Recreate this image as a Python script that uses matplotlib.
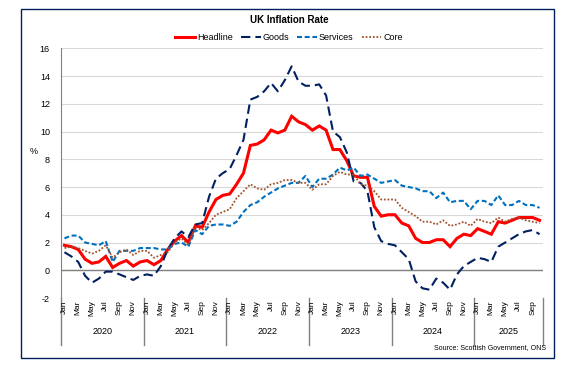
import numpy as np
import matplotlib.pyplot as plt
from matplotlib.patches import Rectangle
from matplotlib.transforms import blended_transform_factory

plt.rcParams['font.family'] = ['Liberation Sans', 'DejaVu Sans']
plt.rcParams['axes.unicode_minus'] = False

# monthly rates, Jan 2020 - Oct 2025
years = ['2020', '2021', '2022', '2023', '2024', '2025']
month_names = ['Jan', 'Feb', 'Mar', 'Apr', 'May', 'Jun',
               'Jul', 'Aug', 'Sep', 'Oct', 'Nov', 'Dec']

headline = [1.8, 1.7, 1.5, 0.8, 0.5, 0.6, 1.0, 0.2, 0.5, 0.7, 0.3, 0.6,
            0.7, 0.4, 0.7, 1.5, 2.1, 2.5, 2.0, 3.2, 3.1, 4.2, 5.1, 5.4,
            5.5, 6.2, 7.0, 9.0, 9.1, 9.4, 10.1, 9.9, 10.1, 11.1, 10.7, 10.5,
            10.1, 10.4, 10.1, 8.7, 8.7, 7.9, 6.8, 6.7, 6.7, 4.6, 3.9, 4.0,
            4.0, 3.4, 3.2, 2.3, 2.0, 2.0, 2.2, 2.2, 1.7, 2.3, 2.6, 2.5,
            3.0, 2.8, 2.6, 3.5, 3.4, 3.6, 3.8, 3.8, 3.8, 3.6]

goods = [1.3, 1.0, 0.6, -0.4, -0.9, -0.6, -0.1, -0.1, -0.3, -0.5, -0.7, -0.4,
         -0.3, -0.4, 0.3, 1.5, 2.3, 2.8, 2.4, 3.3, 3.4, 5.3, 6.6, 7.0,
         7.3, 8.3, 9.4, 12.3, 12.5, 12.9, 13.5, 12.9, 13.7, 14.7, 13.6, 13.3,
         13.3, 13.4, 12.6, 10.0, 9.6, 8.5, 6.4, 6.3, 5.7, 3.1, 2.1, 1.9,
         1.8, 1.3, 0.8, -0.8, -1.3, -1.4, -0.6, -0.9, -1.4, -0.3, 0.3, 0.6,
         0.9, 0.8, 0.6, 1.7, 2.0, 2.3, 2.6, 2.8, 2.9, 2.6]

services = [2.3, 2.5, 2.5, 2.0, 1.9, 1.8, 2.1, 0.6, 1.4, 1.4, 1.4, 1.6,
            1.6, 1.6, 1.5, 1.5, 1.9, 2.0, 1.7, 2.9, 2.6, 3.2, 3.3, 3.3,
            3.2, 3.5, 4.2, 4.7, 4.9, 5.3, 5.6, 5.9, 6.1, 6.3, 6.3, 6.8,
            6.0, 6.6, 6.6, 6.9, 7.4, 7.2, 7.4, 6.8, 6.9, 6.6, 6.3, 6.4,
            6.5, 6.1, 6.0, 5.9, 5.7, 5.7, 5.2, 5.6, 4.9, 5.0, 5.0, 4.4,
            5.0, 5.0, 4.7, 5.4, 4.7, 4.7, 5.0, 4.7, 4.7, 4.5]

core = [1.6, 1.7, 1.6, 1.4, 1.2, 1.4, 1.8, 0.9, 1.3, 1.5, 1.1, 1.4,
        1.4, 0.9, 1.1, 1.3, 2.0, 2.3, 1.8, 3.1, 2.9, 3.4, 4.0, 4.2,
        4.4, 5.2, 5.7, 6.2, 5.9, 5.8, 6.2, 6.3, 6.5, 6.5, 6.3, 6.3,
        5.8, 6.2, 6.2, 6.8, 7.1, 6.9, 6.9, 6.2, 6.1, 5.7, 5.1, 5.1,
        5.1, 4.5, 4.2, 3.9, 3.5, 3.5, 3.3, 3.6, 3.2, 3.3, 3.5, 3.2,
        3.7, 3.5, 3.4, 3.8, 3.5, 3.7, 3.8, 3.6, 3.5, 3.4]

n = len(headline)
x = np.arange(n) + 0.5

fig = plt.figure(figsize=(5.71, 3.69), dpi=100)
ax = fig.add_axes([61 / 571, 1 - 298 / 369, 482 / 571, (298 - 48.3) / 369])

ax.plot(x, headline, color='#FF0000', lw=2.2, label='Headline', solid_joinstyle='miter')
ax.plot(x, goods, color='#002060', lw=1.5, dashes=(4.5, 2.4), label='Goods')
ax.plot(x, services, color='#0070C0', lw=1.5, dashes=(2.4, 1.3), label='Services')
ax.plot(x, core, color='#A0522D', lw=1.3, dashes=(1, 1), label='Core')

ax.set_xlim(0, n)
ax.set_ylim(-2, 16)
ax.set_yticks(range(-2, 17, 2))
ax.yaxis.grid(True, color='#D9D9D9', lw=0.8)
ax.set_axisbelow(True)
ax.axhline(0, color='#808080', lw=1.0, zorder=1)
for s in ['top', 'right', 'bottom']:
    ax.spines[s].set_visible(False)
ax.spines['left'].set_color('#808080')
ax.set_xticks([])
ax.tick_params(axis='y', length=0, labelsize=6.5, pad=8)

# category axis: month labels, year labels and separators
tr = blended_transform_factory(ax.transData, ax.transAxes)
for i in range(n):
    if i % 2 == 0:
        ax.text(i + 0.5, -0.01, month_names[i % 12], transform=tr, rotation=90,
                ha='center', va='top', fontsize=6)
bounds = list(range(0, n, 12)) + [n]
for k, yr in enumerate(years):
    a, b = bounds[k], bounds[k + 1]
    ax.text((a + b) / 2, -0.135, yr, transform=tr, ha='center', va='center', fontsize=6.5)
for b in bounds:
    ax.plot([b, b], [0, -0.19], transform=tr, color='#808080', lw=1.0, clip_on=False)

fig.text(289 / 571, 1 - 20 / 369, 'UK Inflation Rate', ha='center', va='center',
         fontsize=7, fontweight='bold')
fig.text(34 / 571, 1 - 152 / 369, '%', ha='center', va='center', fontsize=6.5)
fig.text(546 / 571, 1 - 348 / 369, 'Source: Scottish Government, ONS', ha='right',
         va='center', fontsize=5)

fig.legend(loc='center', bbox_to_anchor=(289 / 571, 1 - 38 / 369), ncol=4, frameon=False,
           fontsize=6.5, handlelength=2.2, handletextpad=0.2, columnspacing=0.9)

fig.patches.append(Rectangle((21 / 571, 1 - 358 / 369), 533 / 571, 349 / 369,
                             transform=fig.transFigure, fill=False,
                             edgecolor='#002060', lw=1.0))

plt.savefig('out.png', dpi=100)
